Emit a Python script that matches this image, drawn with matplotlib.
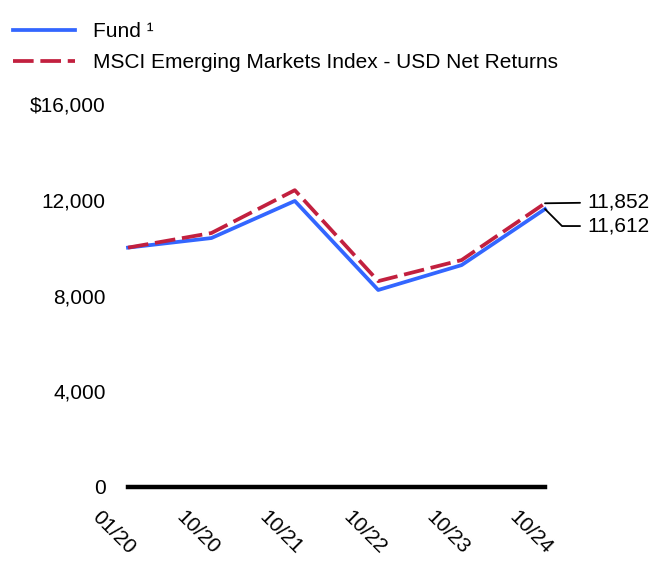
import matplotlib
matplotlib.use("Agg")
import matplotlib.pyplot as plt
from matplotlib.ticker import FuncFormatter
import numpy as np

DATES = ["01/20", "10/20", "10/21", "10/22", "10/23", "10/24"]
FUND = [10000, 10400, 11950, 8230, 9270, 11612]
INDEX = [10000, 10610, 12400, 8600, 9480, 11852]
Y_TICKS = [0, 4000, 8000, 12000, 16000]

C_FUND = "#3366FF"
C_INDEX = "#C2203F"
FS = 15

plt.rcParams.update({"font.family": ["Liberation Sans", "DejaVu Sans"], "font.size": FS})

fig = plt.figure(figsize=(6.72, 5.88), dpi=100)
ax = fig.add_axes([128 / 672, 101 / 588, 417 / 672, 383 / 588])

x = np.arange(len(DATES))
ax.plot(x, FUND, color=C_FUND, lw=2.7, label="Fund \u00b9", clip_on=False, zorder=3)
ax.plot(x, INDEX, color=C_INDEX, lw=2.7, ls=(0, (5.5, 1.8)),
        label="MSCI Emerging Markets Index - USD Net Returns", clip_on=False, zorder=4)
ax.axhline(0, color="black", lw=3.2, clip_on=False, zorder=2)

ax.set_xlim(0, len(DATES) - 1)
ax.set_ylim(0, 16000)
ax.set_yticks(Y_TICKS)
ax.yaxis.set_major_formatter(FuncFormatter(
    lambda v, p: f"${v:,.0f}" if v == Y_TICKS[-1] else f"{v:,.0f}"))
ax.set_xticks(x)
ax.set_xticklabels([])
ax.tick_params(axis="x", length=0)
ax.tick_params(axis="y", length=0, pad=16)
for s in ax.spines.values():
    s.set_visible(False)

# rotated date labels, nudged left of each tick as in the source
for xi, lab in zip(x, DATES):
    ax.annotate(lab, xy=(xi, 0), xycoords=("data", "axes fraction"),
                xytext=(-14, -20), textcoords="offset pixels", rotation=-45,
                ha="center", va="top", fontsize=FS, annotation_clip=False)

# end-of-line value labels
ax.annotate(f"{INDEX[-1]:,}", xy=(x[-1], INDEX[-1]), xytext=(42, 1),
            textcoords="offset pixels", ha="left", va="center", fontsize=FS,
            arrowprops=dict(arrowstyle="-", color="black", lw=1.3, shrinkA=3, shrinkB=0))
ax.annotate(f"{FUND[-1]:,}", xy=(x[-1], FUND[-1]), xytext=(42, -17),
            textcoords="offset pixels", ha="left", va="center", fontsize=FS,
            arrowprops=dict(arrowstyle="-", color="black", lw=1.3, shrinkA=3, shrinkB=0,
                            connectionstyle="angle,angleA=0,angleB=-45,rad=0"))

fig.legend(loc="upper left", bbox_to_anchor=(13 / 672, 1 - 22 / 588), frameon=False,
           borderpad=0, borderaxespad=0, handlelength=2.98, handletextpad=0.86,
           labelspacing=0.58, fontsize=FS)

fig.savefig("out.png", dpi=100)
